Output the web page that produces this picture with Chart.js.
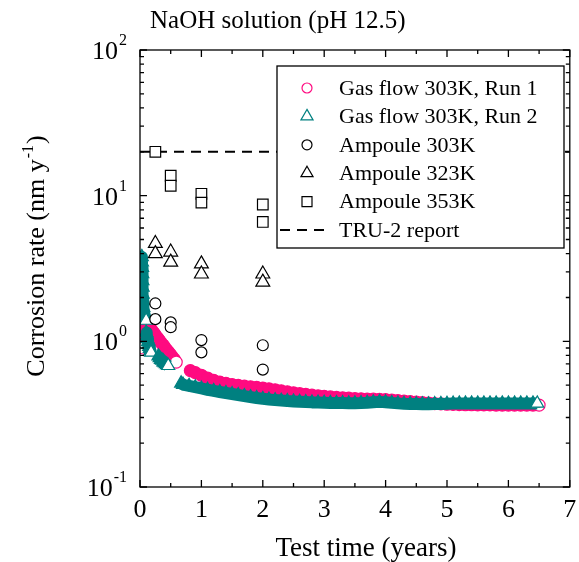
<!DOCTYPE html>
<html>
<head>
<meta charset="utf-8">
<script src="https://cdn.jsdelivr.net/npm/chart.js@4.4.0/dist/chart.umd.min.js"></script>
<style>
  body { margin: 0; background: #fff; }
</style>
</head>
<body>
<canvas id="taxaCorrosao" width="579" height="562"></canvas>
<script>
// Gas flow 303K, Run 1 (each inner list is one measuring run)
const run1Time = [
  [0.01, 0.015, 0.02, 0.025, 0.03, 0.035, 0.04, 0.045, 0.05],
  [0.17, 0.2, 0.23, 0.26, 0.29, 0.32, 0.35, 0.38, 0.41, 0.44, 0.47, 0.5, 0.53, 0.56, 0.59],
  [0.82, 0.9, 1.0, 1.1, 1.2, 1.3, 1.4, 1.5, 1.6, 1.7, 1.8, 1.9, 2.0, 2.1, 2.2, 2.3, 2.4, 2.5,
   2.6, 2.7, 2.8, 2.9, 3.0, 3.1, 3.2, 3.3, 3.4, 3.5, 3.6, 3.7, 3.8, 3.9, 4.0, 4.1, 4.2, 4.3,
   4.4, 4.5, 4.6, 4.7, 4.8, 4.9, 5.0, 5.1, 5.2, 5.3, 5.4, 5.5, 5.6, 5.7, 5.8, 5.9, 6.0, 6.1,
   6.2, 6.3, 6.4, 6.5]
];
const run1Rate = [
  [3.6, 3.1, 2.7, 2.3, 1.95, 1.6, 1.3, 1.05, 0.9],
  [1.23, 1.18, 1.14, 1.09, 1.05, 1.01, 0.97, 0.94, 0.9, 0.87, 0.84, 0.81, 0.78, 0.75, 0.72],
  [0.63, 0.61, 0.585, 0.56, 0.54, 0.525, 0.515, 0.505, 0.498, 0.492, 0.487, 0.483, 0.478, 0.472,
   0.465, 0.457, 0.45, 0.443, 0.437, 0.432, 0.427, 0.423, 0.419, 0.415, 0.412, 0.41, 0.407, 0.405,
   0.403, 0.402, 0.401, 0.4, 0.398, 0.395, 0.392, 0.389, 0.386, 0.383, 0.38, 0.377, 0.374, 0.372,
   0.37, 0.369, 0.368, 0.367, 0.367, 0.366, 0.366, 0.366, 0.365, 0.365, 0.365, 0.365, 0.365,
   0.365, 0.365, 0.365]
];

// Gas flow 303K, Run 2
const run2Time = [
  [0.03, 0.032, 0.035, 0.038, 0.04, 0.043, 0.046, 0.05, 0.055, 0.07, 0.1],
  [0.1, 0.11, 0.12, 0.13, 0.14, 0.15, 0.16, 0.17, 0.18],
  [0.3, 0.32, 0.34, 0.36, 0.38, 0.4, 0.42, 0.44, 0.46],
  [0.67, 0.7, 0.8, 0.9, 1.0, 1.1, 1.2, 1.3, 1.4, 1.5, 1.6, 1.7, 1.8, 1.9, 2.0, 2.1, 2.2, 2.3,
   2.4, 2.5, 2.6, 2.7, 2.8, 2.9, 3.0, 3.1, 3.2, 3.3, 3.4, 3.5, 3.6, 3.7, 3.8, 3.9, 4.0, 4.1,
   4.2, 4.3, 4.4, 4.5, 4.6, 4.7, 4.8, 4.9, 5.0, 5.1, 5.2, 5.3, 5.4, 5.5, 5.6, 5.7, 5.8, 5.9,
   6.0, 6.1, 6.2, 6.3, 6.4, 6.47]
];
const run2Rate = [
  [3.8, 3.5, 3.2, 2.9, 2.6, 2.35, 2.1, 1.9, 1.7, 1.55, 1.39],
  [1.15, 1.09, 1.04, 0.99, 0.95, 0.92, 0.89, 0.86, 0.84],
  [0.79, 0.77, 0.75, 0.74, 0.72, 0.71, 0.7, 0.69, 0.68],
  [0.515, 0.505, 0.495, 0.485, 0.475, 0.465, 0.457, 0.449, 0.442, 0.435, 0.428, 0.421, 0.414,
   0.408, 0.403, 0.399, 0.395, 0.392, 0.389, 0.387, 0.385, 0.383, 0.381, 0.38, 0.379, 0.378,
   0.377, 0.377, 0.376, 0.376, 0.377, 0.379, 0.382, 0.384, 0.382, 0.378, 0.375, 0.373, 0.372,
   0.371, 0.37, 0.37, 0.371, 0.372, 0.373, 0.374, 0.375, 0.375, 0.375, 0.375, 0.375, 0.375,
   0.375, 0.375, 0.375, 0.375, 0.375, 0.375, 0.375, 0.375]
];

// Ampoule tests
const amp303Time = [0.25, 0.25, 0.5, 0.5, 1, 1, 2, 2];
const amp303Rate = [1.82, 1.42, 1.35, 1.25, 1.02, 0.84, 0.94, 0.64];
const amp323Time = [0.25, 0.25, 0.5, 0.5, 1, 1, 2, 2];
const amp323Rate = [4.7, 4.0, 4.1, 3.5, 3.4, 2.9, 2.9, 2.55];
const amp353Time = [0.25, 0.5, 0.5, 1, 1, 2, 2];
const amp353Rate = [20, 13.7, 11.7, 10.3, 8.96, 8.7, 6.6];

// TRU-2 report
const truTime = [0, 7];
const truRate = [20, 20];

// axis ticks
const xMajor = [0, 1, 2, 3, 4, 5, 6, 7];
const xMinor = [0.5, 1.5, 2.5, 3.5, 4.5, 5.5, 6.5];
const xLabels = ["0", "1", "2", "3", "4", "5", "6", "7"];
const yMajor = [0.1, 1, 10, 100];
const yExpoente = ["-1", "0", "1", "2"];
const yMinor = [0.2, 0.3, 0.4, 0.5, 0.6, 0.7, 0.8, 0.9, 2, 3, 4, 5, 6, 7, 8, 9, 20, 30, 40, 50, 60, 70, 80, 90];

const legendas = ["Gas flow 303K, Run 1", "Gas flow 303K, Run 2", "Ampoule 303K", "Ampoule 323K", "Ampoule 353K", "TRU-2 report"];

const rosa = "#ff0a80";
const verde = "#008080";
const fonte = "'Liberation Serif', 'Times New Roman', serif";

function pontos(xs, ys) {
  return xs.map((x, i) => ({ x: x, y: ys[i] }));
}

// flattens runs; the last marker of each run stays hollow like in the figure
function corrida(tempos, taxas) {
  const data = [];
  const fim = [];
  const faixa = [];
  tempos.forEach((seg, s) => {
    seg.forEach((t, i) => {
      data.push({ x: t, y: taxas[s][i] });
      faixa.push({ x: t, y: taxas[s][i] });
    });
    fim.push(data.length - 1);
    faixa.push({ x: seg[seg.length - 1], y: null }); // break between runs
  });
  return { data, fim, faixa };
}

const r1 = corrida(run1Time, run1Rate);
const r2 = corrida(run2Time, run2Rate);

const molduraEixos = {
  id: "molduraEixos",
  afterDraw(chart) {
    const ctx = chart.ctx;
    const a = chart.chartArea;
    const sx = chart.scales.x;
    const sy = chart.scales.y;
    ctx.save();
    ctx.strokeStyle = "#000";
    ctx.fillStyle = "#000";
    ctx.lineWidth = 1.3;
    ctx.strokeRect(a.left, a.top, a.right - a.left, a.bottom - a.top);

    ctx.beginPath();
    const tickX = (v, len) => {
      const p = sx.getPixelForValue(v);
      ctx.moveTo(p, a.bottom); ctx.lineTo(p, a.bottom - len);
      ctx.moveTo(p, a.top); ctx.lineTo(p, a.top + len);
    };
    const tickY = (v, len) => {
      const p = sy.getPixelForValue(v);
      ctx.moveTo(a.left, p); ctx.lineTo(a.left + len, p);
      ctx.moveTo(a.right, p); ctx.lineTo(a.right - len, p);
    };
    xMajor.forEach(v => tickX(v, 7));
    xMinor.forEach(v => tickX(v, 4));
    yMajor.forEach(v => tickY(v, 7));
    yMinor.forEach(v => tickY(v, 4));
    ctx.stroke();

    // tick labels
    ctx.font = "26px " + fonte;
    ctx.textAlign = "center";
    ctx.textBaseline = "alphabetic";
    xMajor.forEach((v, i) => {
      ctx.fillText(xLabels[i], sx.getPixelForValue(v), a.bottom + 30);
    });
    yMajor.forEach((v, i) => {
      const p = sy.getPixelForValue(v);
      ctx.font = "16px " + fonte;
      const we = ctx.measureText(yExpoente[i]).width;
      const xe = a.left - 13 - we;
      ctx.textAlign = "left";
      ctx.fillText(yExpoente[i], xe, p - 5);
      ctx.font = "26px " + fonte;
      ctx.textAlign = "right";
      ctx.fillText("10", xe - 1, p + 9);
    });

    // axis titles
    ctx.font = "27px " + fonte;
    ctx.textAlign = "center";
    ctx.fillText("Test time (years)", 366, 556);

    ctx.save();
    ctx.translate(44, 257);
    ctx.rotate(-Math.PI / 2);
    ctx.textAlign = "left";
    const t1 = "Corrosion rate (nm y";
    const t2 = "-1";
    const t3 = ")";
    ctx.font = "26px " + fonte;
    const w1 = ctx.measureText(t1).width;
    const w3 = ctx.measureText(t3).width;
    ctx.font = "16px " + fonte;
    const w2 = ctx.measureText(t2).width;
    let x0 = -(w1 + w2 + w3) / 2;
    ctx.font = "26px " + fonte;
    ctx.fillText(t1, x0, 0);
    ctx.font = "16px " + fonte;
    ctx.fillText(t2, x0 + w1 + 1, -11);
    ctx.font = "26px " + fonte;
    ctx.fillText(t3, x0 + w1 + w2 + 2, 0);
    ctx.restore();

    // plot title
    ctx.font = "25px " + fonte;
    ctx.textAlign = "left";
    ctx.fillText("NaOH solution (pH 12.5)", 150, 28);

    // legend box
    ctx.fillStyle = "#fff";
    ctx.fillRect(277, 66, 287, 182);
    ctx.strokeStyle = "#000";
    ctx.lineWidth = 1.3;
    ctx.strokeRect(277, 66, 287, 182);

    const mx = 307;
    legendas.forEach((txt, i) => {
      const y = 88 + i * 28.4;
      ctx.lineWidth = 1.2;
      ctx.setLineDash([]);
      ctx.beginPath();
      if (i === 0 || i === 2) {
        ctx.strokeStyle = i === 0 ? rosa : "#000";
        ctx.arc(mx, y, 5, 0, Math.PI * 2);
      } else if (i === 1 || i === 3) {
        ctx.strokeStyle = i === 1 ? verde : "#000";
        const r = 7;
        ctx.moveTo(mx, y - r);
        ctx.lineTo(mx + r * 0.866, y + r * 0.5);
        ctx.lineTo(mx - r * 0.866, y + r * 0.5);
        ctx.closePath();
      } else if (i === 4) {
        ctx.strokeStyle = "#000";
        ctx.rect(mx - 5, y - 5, 10, 10);
      } else {
        ctx.strokeStyle = "#000";
        ctx.lineWidth = 2;
        ctx.setLineDash([10, 7]);
        ctx.moveTo(280, y);
        ctx.lineTo(326, y);
      }
      ctx.stroke();
      ctx.setLineDash([]);
      ctx.fillStyle = "#000";
      ctx.font = "22px " + fonte;
      ctx.textAlign = "left";
      ctx.textBaseline = "middle";
      ctx.fillText(txt, 339, y + 1);
    });
    ctx.restore();
  }
};

// dense daily readings blur into a band: a wide stroke under the markers
function faixa(dados, cor, largura, ordem) {
  return {
    data: dados,
    showLine: true,
    spanGaps: false,
    pointRadius: 0,
    borderColor: cor,
    borderWidth: largura,
    borderJoinStyle: "round",
    order: ordem,
  };
}

new Chart(document.getElementById("taxaCorrosao"), {
  type: "scatter",
  data: {
    datasets: [
      {
        label: "Ampoule 303K",
        data: pontos(amp303Time, amp303Rate),
        pointStyle: "circle",
        pointRadius: 5.5,
        borderColor: "#000",
        backgroundColor: "#fff",
        borderWidth: 1.2,
        order: 0,
      },
      {
        label: "Ampoule 323K",
        data: pontos(amp323Time, amp323Rate),
        pointStyle: "triangle",
        pointRadius: 8,
        borderColor: "#000",
        backgroundColor: "#fff",
        borderWidth: 1.2,
        order: 0,
      },
      {
        label: "Ampoule 353K",
        data: pontos(amp353Time, amp353Rate),
        pointStyle: "rect",
        pointRadius: 7.5,
        borderColor: "#000",
        backgroundColor: "#fff",
        borderWidth: 1.2,
        order: 0,
      },
      {
        label: "Gas flow 303K, Run 2",
        data: r2.data,
        pointStyle: "triangle",
        pointRadius: 7.5,
        borderColor: verde,
        backgroundColor: (c) => (r2.fim.includes(c.dataIndex) ? "#fff" : verde),
        borderWidth: 1.2,
        order: 1,
      },
      faixa(r2.faixa, verde, 12, 2),
      {
        label: "Gas flow 303K, Run 1",
        data: r1.data,
        pointStyle: "circle",
        pointRadius: 6,
        borderColor: rosa,
        backgroundColor: (c) => (r1.fim.includes(c.dataIndex) ? "#fff" : rosa),
        borderWidth: 1.2,
        order: 3,
      },
      faixa(r1.faixa, rosa, 11, 4),
      {
        label: "TRU-2 report",
        data: pontos(truTime, truRate),
        showLine: true,
        pointRadius: 0,
        borderColor: "#000",
        borderWidth: 2,
        borderDash: [10, 7],
        order: 5,
      },
    ],
  },
  options: {
    responsive: false,
    animation: false,
    layout: {
      padding: { left: 140, right: 3, top: 50, bottom: 75 },
    },
    scales: {
      x: { type: "linear", min: 0, max: 7, display: false },
      y: { type: "logarithmic", min: 0.1, max: 100, display: false },
    },
    plugins: {
      legend: { display: false },
      tooltip: { enabled: false },
    },
  },
  plugins: [molduraEixos],
});
</script>
</body>
</html>
